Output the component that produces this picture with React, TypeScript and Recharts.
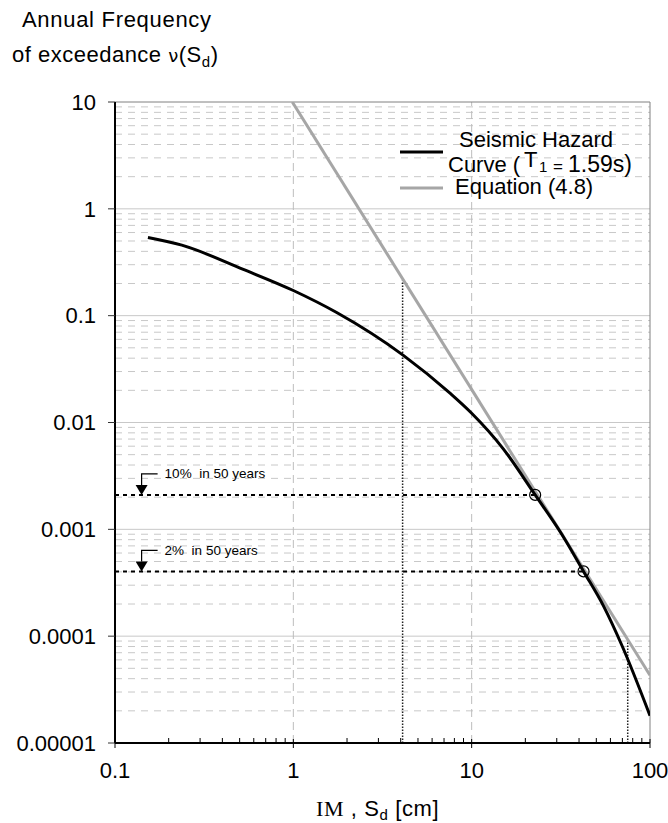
import React from 'react';
import {
    LineChart, Line, XAxis, YAxis, ReferenceLine, ReferenceDot
} from 'recharts';

// Axis ticks
const X_MAJOR = [0.1, 1, 10, 100];
const X_LABELS = ['0.1', '1', '10', '100'];
const Y_MAJOR = [0.00001, 0.0001, 0.001, 0.01, 0.1, 1, 10];
const Y_LABELS = ['0.00001', '0.0001', '0.001', '0.01', '0.1', '1', '10'];
const MINOR_STEPS = [2, 3, 4, 5, 6, 7, 8, 9];
const X_MINOR = [0.1, 1, 10].flatMap(d => MINOR_STEPS.map(m => +(d * m).toPrecision(3)));
const Y_MINOR = [0.00001, 0.0001, 0.001, 0.01, 0.1, 1].flatMap(d => MINOR_STEPS.map(m => +(d * m).toPrecision(3)));

// Seismic hazard curve (T1 = 1.59s)
const HAZARD_SD = [0.153, 0.237, 0.524, 1, 1.75, 4.14, 7.56, 10, 15, 22.7, 32, 42.4, 55, 70, 100];
const HAZARD_NU = [0.54, 0.457, 0.271, 0.172, 0.107, 0.0425, 0.0188, 0.0122, 0.0057, 0.0021, 0.0009, 0.000404, 0.00019, 0.00008, 0.000018];

// Equation (4.8) - straight line in log-log
const EQ_SD = [0.987, 100];
const EQ_NU = [10, 0.000043];

// Hazard levels
const P10 = 0.0021;   // 10% in 50 years
const P2 = 0.000404;  // 2% in 50 years
const SD_P10 = 22.7;
const SD_P2 = 42.4;
const SD_LOW = 4.1;
const NU_LOW = 0.215;
const SD_HIGH = 75;
const NU_HIGH = 0.000092;

const hazardData = HAZARD_SD.map((x, i) => ({ x, y: HAZARD_NU[i] }));
const eqData = EQ_SD.map((x, i) => ({ x, y: EQ_NU[i] }));

const FONT = "Arial, 'Liberation Sans', Helvetica, sans-serif";

const XTick = (props: any) => {
    const { x, y, payload } = props;
    const idx = X_MAJOR.indexOf(payload.value);
    if (idx < 0) {
        return <line x1={x} x2={x} y1={y} y2={y - 5} stroke="#000" strokeWidth={1} />;
    }
    return (
        <g>
            <line x1={x} x2={x} y1={y - 4} y2={y + 5} stroke="#000" strokeWidth={1} />
            <text x={x} y={y + 35} textAnchor="middle" fontSize={22} fontFamily={FONT} fill="#000">
                {X_LABELS[idx]}
            </text>
        </g>
    );
};

const Marker = ({ cx, cy, text }: { cx: number; cy: number; text: string }) => (
    <g>
        <polyline
            points={`${cx + 16},${cy - 21} ${cx},${cy - 21} ${cx},${cy - 10}`}
            fill="none" stroke="#000" strokeWidth={1.2}
        />
        <polygon points={`${cx - 6},${cy - 10} ${cx + 6},${cy - 10} ${cx},${cy}`} fill="#000" />
        <text x={cx + 23} y={cy - 16.5} fontSize={13.5} fontFamily={FONT} style={{ whiteSpace: 'pre' }}>
            {text}
        </text>
    </g>
);

export default function App() {
    return (
        <div style={{ position: 'absolute', left: 0, top: 0, width: 668, height: 823, background: '#fff' }}>
            <LineChart width={668} height={823} margin={{ top: 102, right: 18, bottom: 30, left: 15 }}>
                <XAxis
                    type="number"
                    dataKey="x"
                    scale="log"
                    domain={[0.1, 100]}
                    allowDataOverflow
                    ticks={[...X_MAJOR, ...X_MINOR]}
                    interval={0}
                    tick={(p: any) => <XTick {...p} />}
                    tickLine={false}
                    tickSize={0}
                    tickMargin={0}
                    height={50}
                    axisLine={false}
                />
                <YAxis
                    type="number"
                    dataKey="y"
                    scale="log"
                    domain={[0.00001, 10]}
                    allowDataOverflow
                    ticks={Y_MAJOR}
                    interval={0}
                    tickFormatter={(v: number) => Y_LABELS[Y_MAJOR.indexOf(v)] ?? ''}
                    tick={{ fill: '#000', fontSize: 22, fontFamily: FONT }}
                    tickLine={{ stroke: '#333' }}
                    tickSize={7}
                    tickMargin={12}
                    width={100}
                    axisLine={false}
                />

                {/* grid */}
                {Y_MINOR.map(v => (
                    <ReferenceLine key={'ym' + v} y={v} stroke="#c8c8c8" strokeDasharray="7 6" />
                ))}
                {Y_MAJOR.slice(1, -1).map(v => (
                    <ReferenceLine key={'yM' + v} y={v} stroke="#c8c8c8" />
                ))}
                {[1, 10].map(v => (
                    <ReferenceLine key={'xM' + v} x={v} stroke="#bdbdbd" strokeDasharray="8 5" />
                ))}
                <ReferenceLine y={10} stroke="#808080" />
                <ReferenceLine x={100} stroke="#808080" />

                {/* hazard levels */}
                <ReferenceLine
                    segment={[{ x: 0.1, y: P10 }, { x: SD_P10, y: P10 }]}
                    stroke="#000" strokeWidth={2} strokeDasharray="4 4"
                />
                <ReferenceLine
                    segment={[{ x: 0.1, y: P2 }, { x: SD_P2, y: P2 }]}
                    stroke="#000" strokeWidth={2} strokeDasharray="4 4"
                />
                <ReferenceLine
                    segment={[{ x: SD_LOW, y: 0.00001 }, { x: SD_LOW, y: NU_LOW }]}
                    stroke="#222" strokeWidth={1.5} strokeDasharray="1.5 1.5"
                />
                <ReferenceLine
                    segment={[{ x: SD_HIGH, y: 0.00001 }, { x: SD_HIGH, y: NU_HIGH }]}
                    stroke="#222" strokeWidth={1.5} strokeDasharray="1.5 1.5"
                />

                <Line
                    data={eqData}
                    dataKey="y"
                    type="linear"
                    stroke="#a6a6a6"
                    strokeWidth={3}
                    dot={false}
                    isAnimationActive={false}
                />
                <Line
                    data={hazardData}
                    dataKey="y"
                    type="monotone"
                    stroke="#000"
                    strokeWidth={3}
                    dot={false}
                    isAnimationActive={false}
                />

                <ReferenceDot x={SD_P10} y={P10} r={5.5} fill="none" stroke="#000" strokeWidth={1.2} />
                <ReferenceDot x={SD_P2} y={P2} r={5.5} fill="none" stroke="#000" strokeWidth={1.2} />
                <ReferenceDot
                    x={0.141} y={P10} r={0}
                    shape={(p: any) => <Marker cx={p.cx} cy={p.cy} text="10%  in 50 years" />}
                />
                <ReferenceDot
                    x={0.141} y={P2} r={0}
                    shape={(p: any) => <Marker cx={p.cx} cy={p.cy} text="2%  in 50 years" />}
                />

                {/* axes lines on top */}
                <ReferenceLine x={0.1} stroke="#000" strokeWidth={2} />
                <ReferenceLine y={0.00001} stroke="#000" strokeWidth={2} />
            </LineChart>

            <svg
                width={668} height={823}
                style={{ position: 'absolute', left: 0, top: 0, pointerEvents: 'none' }}
                fontFamily={FONT}
            >
                <text x={22} y={27} fontSize={22} letterSpacing={0.7}>Annual Frequency</text>
                <text x={12} y={62} fontSize={22} letterSpacing={0.5}>
                    of exceedance <tspan fontFamily="'DejaVu Sans', sans-serif" fontSize={18}>ν</tspan>(S
                    <tspan fontSize={15} dy={5}>d</tspan>
                    <tspan dy={-5}>)</tspan>
                </text>

                <text x={316} y={816} fontSize={22} letterSpacing={0.6}>
                    <tspan fontFamily="'Liberation Serif', 'Times New Roman', serif">IM</tspan>
                    <tspan style={{ whiteSpace: 'pre' }}> , S</tspan>
                    <tspan fontSize={15} dy={4}>d</tspan>
                    <tspan dy={-4} style={{ whiteSpace: 'pre' }}> [cm]</tspan>
                </text>

                {/* legend */}
                <line x1={400} x2={443} y1={152} y2={152} stroke="#000" strokeWidth={3} />
                <text x={459} y={147} fontSize={22}>Seismic Hazard</text>
                <text x={448} y={172} fontSize={22} style={{ whiteSpace: 'pre' }}>
                    Curve (
                    <tspan x={524} dy={-5}>T</tspan>
                    <tspan x={539} dy={5} fontSize={15}>1</tspan>
                    <tspan x={553} fontSize={17}>=</tspan>
                    <tspan x={568} fontSize={23}>1.59s)</tspan>
                </text>
                <line x1={400} x2={443} y1={188} y2={188} stroke="#a6a6a6" strokeWidth={3} />
                <text x={455} y={194} fontSize={22}>Equation (4.8)</text>
            </svg>
        </div>
    );
}
